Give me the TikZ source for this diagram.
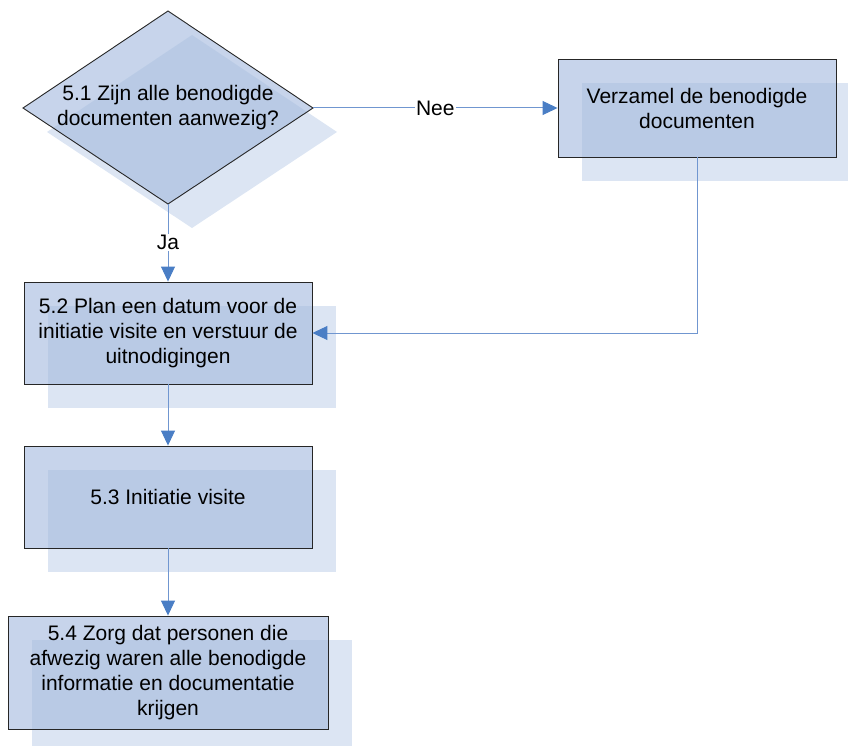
\documentclass[tikz,border=0pt]{standalone}
\usepackage{fontspec}
\setmainfont{Liberation Sans}
\usetikzlibrary{arrows.meta}
\definecolor{mainc}{RGB}{164,186,222}
\definecolor{shadowc}{RGB}{220,229,243}
\definecolor{linec}{RGB}{112,150,208}
\definecolor{tipc}{RGB}{74,126,197}
\newcommand{\fs}{\fontsize{21pt}{25pt}\selectfont}
\tikzset{
  box/.style={draw=black!85, line width=0.9pt, fill=mainc, fill opacity=0.62, text opacity=1, align=center, font=\fs, inner sep=0pt},
  shadowbox/.style={fill=shadowc, draw=none, inner sep=0pt},
  conn/.style={draw=linec, line width=1pt, -{Triangle[length=15pt,width=14pt,color=tipc]}},
  lbl/.style={fill=white, font=\fs, inner sep=1pt},
  txt/.style={align=center, font=\fs, inner sep=0pt}
}
\begin{document}
\begin{tikzpicture}[x=1pt,y=-1pt]
\useasboundingbox (0,0) rectangle (848,746);
% diamond corners
\coordinate (dn) at (168,11);
\coordinate (de) at (313,108);
\coordinate (ds) at (168,204);
\coordinate (dw) at (23,108);
% shadows
\fill[shadowc] (192,35) -- (337,132) -- (192,228) -- (47,132) -- cycle;
\node[shadowbox, minimum width=278pt, minimum height=98pt] (sv) at (721,132) {};
\node[shadowbox, minimum width=288pt, minimum height=102pt] (s2) at (192,357) {};
\node[shadowbox, minimum width=288pt, minimum height=102pt] (s3) at (192,521) {};
\node[shadowbox, minimum width=320pt, minimum height=113pt] (s4) at (192,696.5) {};
% main shapes
\filldraw[draw=black!85, line width=0.9pt, fill=mainc, fill opacity=0.62] (dn) -- (de) -- (ds) -- (dw) -- cycle;
\node[txt] (d1) at (168,108) {5.1 Zijn alle benodigde\\documenten aanwezig?};
\node[box, minimum width=278pt, minimum height=98pt] (v) at (697,108) {Verzamel de benodigde\\documenten};
\node[box, minimum width=288pt, minimum height=102pt] (b2) at (168,333) {5.2 Plan een datum voor de\\initiatie visite en verstuur de\\uitnodigingen};
\node[box, minimum width=288pt, minimum height=102pt] (b3) at (168,497) {5.3 Initiatie visite};
\node[box, minimum width=320pt, minimum height=113pt] (b4) at (168,672.5) {5.4 Zorg dat personen die\\afwezig waren alle benodigde\\informatie en documentatie\\krijgen};
% connectors
\draw[conn] (de) -- node[lbl] {Nee} (v.west);
\draw[conn] (ds) -- node[lbl, pos=0.5] {Ja} (b2.north);
\draw[conn] (v.south) |- (b2.east);
\draw[conn] (b2.south) -- (b3.north);
\draw[conn] (b3.south) -- (b4.north);
\end{tikzpicture}
\end{document}
